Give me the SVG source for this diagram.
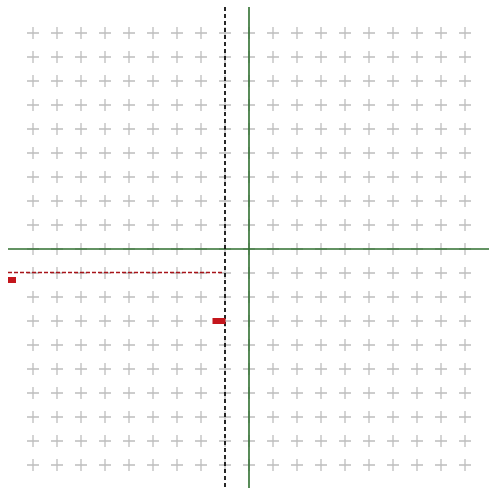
<svg xmlns="http://www.w3.org/2000/svg" width="489" height="488" viewBox="0 0 489 488">
  <style>
    .axis { stroke: #2f6f2f; stroke-width: 1.6; fill: none; }
    .guide { stroke: #111; stroke-width: 1.8; stroke-dasharray: 4 3; fill: none; }
    .redguide { stroke: #a8141a; stroke-width: 1.3; stroke-dasharray: 4 2; fill: none; }
    .marker { fill: #c4161c; }
  </style>
  <defs>
    <pattern id="grid" x="21" y="21" width="24" height="24" patternUnits="userSpaceOnUse">
      <path d="M6 12H18M12 6V18" stroke="#bdbdbd" stroke-width="1.3" fill="none"/>
    </pattern>
  </defs>
  <rect width="489" height="488" fill="#ffffff"/>
  <rect id="grid-area" x="21" y="21" width="456" height="456" fill="url(#grid)"/>
  <g id="connectors">
    <line class="redguide" x1="8" y1="272.5" x2="222" y2="272.5"/>
    <line class="axis" x1="249" y1="7" x2="249" y2="488"/>
    <line class="axis" x1="8" y1="249" x2="489" y2="249"/>
    <line class="guide" x1="225" y1="7" x2="225" y2="488"/>
  </g>
  <g id="marker-left">
    <rect class="marker" x="8" y="277" width="8" height="6"/>
  </g>
  <g id="marker-center">
    <rect class="marker" x="212.5" y="318" width="13" height="6"/>
  </g>
</svg>
